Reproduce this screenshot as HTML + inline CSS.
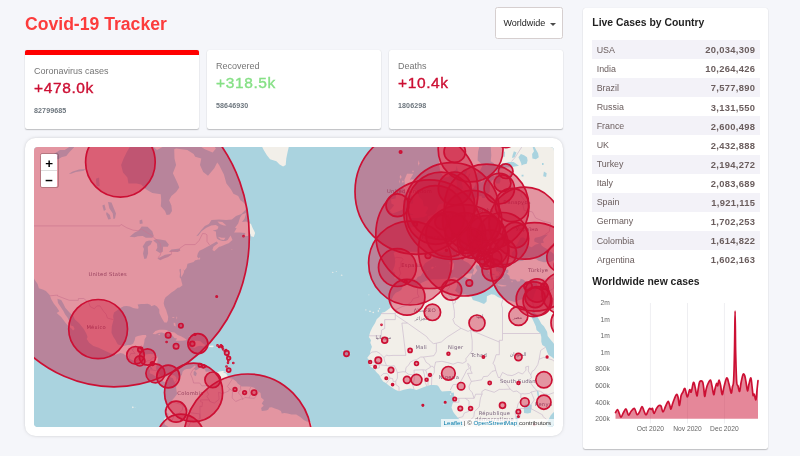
<!DOCTYPE html><html lang="en"><head><meta charset="utf-8"><title>Covid-19 Tracker</title><style>
*{box-sizing:border-box;margin:0;padding:0}
html,body{width:800px;height:456px;overflow:hidden}
body{background:#f5f6fa;font-family:"Liberation Sans",sans-serif;position:relative;color:#222}
.abs{position:absolute;white-space:nowrap;line-height:1}
h1{position:absolute;left:25px;top:15.5px;font-size:17.6px;line-height:1;color:#fc3c3c;font-weight:bold;white-space:nowrap}
.dd{position:absolute;left:495px;top:7px;width:68px;height:32px;background:#fff;border:1px solid #d6cfcf;border-radius:2.5px}
.dd span{position:absolute;left:7.5px;top:10.6px;font-size:9px;line-height:1;color:#1c1c1c}
.dd i{position:absolute;left:54px;top:14.6px;width:0;height:0;border-left:3px solid transparent;border-right:3px solid transparent;border-top:3.1px solid #4a4a4a}
.card{position:absolute;top:50px;width:174px;height:78.7px;background:#fff;border-radius:2px;box-shadow:0 1px 1.2px rgba(0,0,0,.22),0 0 1px rgba(0,0,0,.12)}
.card.sel{border-top:5.5px solid #ff0000}
.card .t{position:absolute;left:9px;top:11.9px;font-size:9px;line-height:1;color:#757575}
.card .v{position:absolute;left:9px;top:25.1px;font-size:15.5px;line-height:1;font-weight:normal;-webkit-text-stroke:.38px currentColor;color:#cc1034;letter-spacing:.62px}
.card .n{position:absolute;left:9px;top:53px;font-size:7.1px;line-height:1;font-weight:bold;color:#6c757d;letter-spacing:.1px}
.mapcard{position:absolute;left:25px;top:138px;width:538px;height:298px;background:#fff;border-radius:10.5px;box-shadow:0 0 4.4px -2px rgba(0,0,0,.5)}
.mapwrap{position:absolute;left:9px;top:9px;width:520px;height:280px;border-radius:4px;overflow:hidden;background:#aad3df}
svg.map{position:absolute;left:0;top:0;display:block}
svg.map .l{fill:#f2efe9}
svg.map .w{fill:#aad3df}
svg.map .b{fill:none;stroke:#c9b8cc;stroke-width:.65}
svg.map .lb text{fill:#75607a;font-family:"DejaVu Sans","Liberation Sans",sans-serif;text-anchor:middle;letter-spacing:.25px}
svg.map .cs ellipse{fill:#cc1034;fill-opacity:.4;stroke:#cc1034;stroke-width:1.7}
.zoom{position:absolute;left:6px;top:6px;width:18.6px;border:1.1px solid rgba(0,0,0,.2);border-radius:2.3px;background-clip:padding-box}
.zoom b{display:block;width:16.4px;height:16.6px;background:#fff;color:#000;font-size:13.4px;line-height:16.6px;text-align:center;font-weight:bold;font-family:"Liberation Sans",sans-serif;overflow:hidden}
.zoom b span{position:relative;top:1.5px}
.zoom b+b span{top:2.6px}
.zoom b:first-child{border-bottom:.6px solid #ddd;border-radius:1.2px 1.2px 0 0}
.zoom b:last-child{border-radius:0 0 1.2px 1.2px}
.attr{position:absolute;right:0;bottom:0;background:rgba(255,255,255,.72);font-size:6.2px;line-height:8.4px;padding:0 2.8px;color:#333;white-space:nowrap}
.attr a{color:#0078a8;text-decoration:none}
.panel{position:absolute;left:583px;top:8px;width:184.8px;height:441px;background:#fff;border-radius:2.5px;box-shadow:0 1px 1.2px rgba(0,0,0,.22),0 0 1px rgba(0,0,0,.12)}
h3{position:absolute;font-size:10.4px;line-height:1;font-weight:bold;color:#1f1f1f;white-space:nowrap;left:592.3px}
.tbl{position:absolute;left:592px;top:40px;width:168px;color:#6a5d5d}
.tbl div{height:19.1px;position:relative}
.tbl div:nth-child(odd){background:#f3f2f8}
.tbl span{position:absolute;left:4.7px;top:5.6px;font-size:8.9px;line-height:1}
.tbl strong{position:absolute;right:5px;top:5.3px;font-size:9.4px;line-height:1;letter-spacing:.32px;margin-right:-.32px}
svg.chart{position:absolute;display:block}
svg.chart .ax{font-size:6.7px;fill:#666;font-family:"Liberation Sans",sans-serif}
</style></head><body>
<h1>Covid-19 Tracker</h1>
<div class="dd"><span>Worldwide</span><i></i></div>
<div class="card sel" style="left:25px"><div class="t">Coronavirus cases</div><div class="v">+478.0k</div><div class="n">82799685</div></div>
<div class="card" style="left:207px"><div class="t">Recovered</div><div class="v" style="color:#86e086">+318.5k</div><div class="n">58646930</div></div>
<div class="card" style="left:389px"><div class="t">Deaths</div><div class="v">+10.4k</div><div class="n">1806298</div></div>
<div class="mapcard"><div class="mapwrap">
<svg class="map" width="520" height="280" viewBox="0 0 520 280">
<rect width="520" height="280" fill="#aad3df"/>
<g class="land">
<path class="l" d="M-40.9 -58.2L-40.9 129.4L-2.7 125.3L-1.1 129.4L0.8 133.0L3.6 136.9L4.9 141.2L9.4 142.7L11.9 143.9L15.7 148.1L17.3 152.2L19.9 156.7L22.7 160.3L25.3 164.3L22.7 166.1L27.2 170.1L31.3 175.4L33.6 178.2L37.7 181.7L39.0 183.4L40.6 182.0L39.3 179.2L36.7 178.5L35.5 174.7L33.6 170.8L31.0 167.2L29.4 164.0L27.2 160.7L24.0 155.9L23.4 151.8L27.2 153.0L29.4 156.7L31.3 160.7L35.5 165.4L39.3 169.0L40.9 172.6L45.0 176.1L49.8 182.0L52.3 186.5L53.6 189.9L52.7 192.0L55.2 195.7L59.4 199.1L64.1 200.4L70.5 203.4L76.9 206.4L81.6 207.7L86.4 206.1L89.6 206.7L94.4 211.3L99.1 213.6L103.0 215.0L108.7 215.9L110.6 216.9L111.9 218.9L115.1 221.8L116.0 223.4L115.7 226.3L118.9 227.6L122.4 229.9L123.7 231.5L124.9 232.8L128.4 234.1L131.3 235.4L134.2 234.4L132.9 232.1L135.8 229.9L138.9 231.2L139.9 234.1L140.9 235.4L142.4 237.6L142.1 240.8L142.8 245.6L143.7 246.2L140.5 250.4L138.0 253.3L137.4 255.2L134.2 256.1L133.9 258.3L132.6 259.9L131.3 261.5L131.6 264.7L131.3 265.7L134.2 266.6L134.5 267.9L133.2 269.2L130.0 272.0L130.4 274.9L130.7 277.5L134.2 279.7L135.4 281.7L138.9 288.7L140.5 296.8L280.6 296.8L277.8 283.9L278.1 281.3L276.8 274.9L272.7 274.6L270.1 273.3L266.3 270.1L262.2 267.6L257.4 267.6L253.6 266.6L250.4 266.0L247.8 266.6L246.9 264.1L244.0 262.5L240.8 261.5L237.6 260.3L235.4 260.6L234.1 262.8L232.2 263.4L227.8 264.1L227.1 260.9L229.7 258.7L227.8 256.4L230.0 252.9L227.1 250.4L226.5 245.9L224.3 244.6L222.4 242.7L220.1 240.8L217.0 239.8L213.1 239.5L207.4 239.5L206.4 238.6L203.6 236.6L202.3 234.4L198.5 231.8L195.0 230.9L192.8 227.6L191.5 226.3L188.9 224.9L191.8 224.1L188.3 224.1L184.5 224.7L182.9 226.0L179.4 225.7L178.1 224.4L175.6 224.4L171.7 224.7L171.1 222.5L167.0 221.5L166.3 219.2L165.1 221.2L162.8 223.1L161.2 223.4L160.0 221.2L161.9 219.9L160.6 218.4L158.7 220.2L156.5 221.8L152.6 222.1L150.4 222.8L148.5 224.7L147.9 228.0L146.0 229.6L144.0 230.9L144.4 232.8L142.8 230.9L142.4 230.5L140.5 228.6L137.4 227.8L134.5 228.4L131.6 229.9L129.4 230.2L127.2 229.6L125.9 227.6L124.6 226.3L122.7 223.8L122.4 223.1L122.1 219.9L123.0 216.6L123.7 213.3L124.0 210.0L121.4 208.4L119.8 207.2L115.1 207.1L111.9 207.4L108.7 207.6L105.8 207.1L107.7 205.1L108.1 203.4L108.4 200.1L109.3 199.1L110.3 195.0L110.6 192.3L112.5 189.3L111.9 188.1L108.7 187.9L103.9 188.9L101.4 189.9L100.7 193.3L99.1 196.7L96.6 198.1L93.7 198.1L89.6 199.1L87.1 198.4L83.9 197.4L82.9 196.0L81.6 193.3L79.4 189.9L77.8 186.5L77.5 185.5L77.8 179.6L79.1 174.3L79.6 172.7L79.1 169.0L80.0 165.4L83.2 163.3L86.4 161.1L89.6 159.2L92.8 159.1L96.0 159.6L99.1 161.1L101.7 161.4L104.2 161.8L104.6 160.3L103.6 157.4L107.1 157.0L110.3 157.0L113.5 156.7L116.3 157.8L117.3 159.2L120.5 158.1L123.0 159.6L125.3 162.5L125.3 166.1L127.2 170.1L128.4 172.2L130.4 175.4L132.9 175.4L133.9 173.3L134.2 169.7L132.6 164.7L132.3 163.6L130.4 159.2L129.7 156.3L130.4 152.6L131.6 150.3L134.5 148.1L137.4 145.4L140.5 143.5L143.7 140.8L145.6 140.4L148.5 138.3L147.5 134.6L146.9 131.8L145.6 130.2L146.0 126.6L145.3 122.5L146.9 121.7L146.9 126.2L147.2 130.2L148.5 128.2L149.8 125.7L150.1 123.7L148.5 121.7L150.4 123.5L152.6 120.8L153.3 117.5L153.6 116.7L159.6 115.0L161.2 113.3L162.8 112.9L164.1 112.4L166.0 112.4L166.2 110.7L165.4 110.4L164.4 111.6L163.1 109.4L163.8 106.4L165.4 103.8L169.2 102.0L172.4 100.2L175.6 98.5L178.7 96.7L182.6 94.4L184.2 96.2L179.4 99.8L178.4 102.9L180.3 104.2L185.1 99.8L186.7 99.4L193.1 96.7L194.7 96.2L197.8 93.5L198.5 93.0L196.6 88.4L193.7 93.0L191.5 93.9L188.3 93.9L185.1 93.0L182.9 91.6L182.2 88.4L181.9 84.6L178.7 83.7L183.5 82.2L184.5 79.8L181.9 77.9L177.2 78.4L172.4 80.8L167.6 84.2L164.4 88.4L162.2 89.3L165.4 85.6L167.0 83.2L170.8 78.9L174.9 76.9L177.5 73.0L185.1 72.5L192.1 73.0L197.8 72.5L202.0 69.0L207.4 66.9L211.5 62.8L211.9 58.6L209.0 54.9L206.4 53.3L204.2 48.9L199.4 46.7L196.9 42.2L192.4 36.4L189.9 27.4L185.1 18.1L183.2 15.5L180.3 21.3L174.0 28.7L169.2 25.0L166.0 18.1L167.3 11.6L161.2 9.7L159.6 7.0L153.3 2.9L142.1 1.5L140.2 2.2L140.5 11.6L142.1 18.1L138.9 26.2L143.7 36.4L145.3 40.4L142.1 45.0L137.4 48.9L135.1 53.3L137.4 58.6L138.0 63.9L135.8 67.4L132.6 68.0L131.0 63.9L126.8 59.2L127.2 53.3L126.8 47.2L118.3 46.1L111.9 42.2L107.1 37.6L102.3 36.4L94.4 36.4L93.4 30.5L89.0 25.6L87.1 18.1L89.6 11.6L92.8 5.0L96.0 -0.5L100.7 -6.2L102.3 -58.2Z"/>
<path class="l" d="M200.1 85.6L202.6 81.3L201.0 80.8L204.2 76.4L206.1 70.5L208.0 67.4L212.2 65.9L210.6 71.5L208.0 75.0L212.2 74.5L217.0 76.9L218.5 80.8L220.1 83.7L221.1 86.0L219.8 90.0L217.0 89.3L216.3 86.5L213.8 88.9L210.9 88.9L211.2 86.0L205.8 85.6Z"/>
<path class="l" d="M183.5 74.5L188.3 75.0L192.4 78.4L189.9 78.4L185.8 76.9Z"/>
<path class="l" d="M183.8 89.8L187.7 90.7L191.5 90.7L189.9 93.0L186.7 92.6Z"/>
<path class="l" d="M140.5 -9.1L151.7 -11.3L161.2 -4.0L170.8 2.2L178.7 5.6L181.9 1.5L177.2 -4.8L183.5 -5.5L185.1 -24.1L140.5 -24.1Z"/>
<path class="l" d="M111.9 -5.5L116.7 -2.6L123.0 2.9L129.4 -0.5L133.5 -6.9L127.8 -12.7L115.1 -16.5Z"/>
<path class="l" d="M220.1 -24.1L223.3 -10.5L226.5 -3.3L229.7 2.9L232.9 8.3L236.1 12.3L242.4 14.2L245.6 17.5L249.1 19.4L251.7 18.1L252.3 11.6L253.6 5.0L255.2 -1.9L259.3 -12.7L267.9 -24.1Z"/>
<path class="l" d="M312.5 -20.3L317.2 -8.3L325.2 -5.5L329.3 -4.8L337.9 -9.1L344.3 -15.0L342.7 -24.1L318.8 -28.1Z"/>
<path class="l" d="M118.6 186.9L121.4 184.1L125.3 182.7L129.4 182.7L132.6 183.1L135.8 184.8L140.5 185.5L143.7 187.9L146.9 189.3L150.1 191.0L152.6 192.7L151.7 193.3L148.5 193.7L143.7 193.7L141.5 193.8L143.1 191.6L140.5 191.0L138.3 188.2L134.2 187.5L131.0 186.5L127.8 185.5L124.6 185.8L121.4 187.2Z"/>
<path class="l" d="M152.0 198.1L156.5 199.1L160.6 201.1L162.8 199.4L166.0 198.7L170.1 199.4L171.4 198.1L169.2 196.7L166.3 194.3L162.8 193.7L160.6 194.0L157.1 193.7L155.2 194.3L157.1 195.7L158.4 198.1L154.9 198.4L153.3 197.9Z"/>
<path class="l" d="M139.3 199.1L142.1 198.4L146.0 199.4L146.3 200.4L143.1 201.1L139.9 199.7Z"/>
<path class="l" d="M174.9 198.7L178.7 198.4L180.0 199.1L178.7 200.2L174.9 200.1Z"/>
<path class="l" d="M191.8 224.1L194.7 223.8L194.7 226.0L191.8 226.2Z"/>
<path class="l" d="M139.6 175.7L141.2 176.1L141.8 179.6L139.9 178.5Z"/>
<path class="l" d="M404.5 -58.2L404.5 5.0L404.8 11.6L405.1 18.1L406.4 24.4L409.6 29.9L411.2 30.5L414.4 29.9L419.1 24.4L422.3 22.5L422.6 18.7L423.9 24.4L424.5 28.7L426.8 32.3L428.7 39.3L429.3 42.2L430.3 45.6L434.1 45.6L434.4 42.2L439.8 41.0L441.1 38.1L442.1 31.7L443.0 26.2L446.5 22.5L448.7 18.1L443.6 13.6L444.0 5.0L445.6 -1.2L447.8 -3.3L455.7 -12.7L460.5 -22.6L469.4 -18.0L466.9 -12.0L460.5 -3.3L456.7 -1.2L457.3 8.3L456.7 14.2L459.9 16.2L462.1 19.4L468.5 16.8L474.8 14.9L479.6 14.9L485.0 18.7L478.0 20.0L471.7 20.6L467.5 21.9L463.7 23.1L463.7 26.8L466.6 28.7L466.3 34.6L465.3 36.4L462.1 36.4L460.8 32.3L457.7 33.5L455.7 39.3L455.7 45.0L452.6 48.3L451.0 51.1L448.1 51.1L447.5 48.9L443.0 49.4L439.8 52.2L434.4 53.8L431.9 51.1L428.0 52.2L423.9 53.3L420.7 50.5L420.1 47.8L419.8 45.0L421.7 42.2L423.3 39.3L422.3 33.5L422.6 32.3L419.1 35.2L415.9 35.8L414.7 42.2L414.7 45.0L416.3 48.3L416.9 53.3L415.9 55.4L411.2 56.0L408.0 56.5L404.8 57.6L403.8 59.2L402.6 63.3L400.3 66.9L396.8 68.5L394.0 69.5L394.0 73.0L389.5 75.9L385.7 76.9L384.7 75.5L383.2 75.9L383.8 80.3L379.3 79.8L373.9 81.3L374.9 84.6L380.0 86.5L381.9 87.5L385.1 92.1L385.1 97.6L384.7 102.0L383.8 104.7L379.3 104.7L374.6 104.7L369.8 103.8L363.4 103.1L359.6 106.0L360.9 110.7L361.2 115.0L360.5 119.2L358.6 124.1L360.9 125.7L360.9 127.8L360.5 131.4L365.3 130.6L368.5 132.6L371.1 135.3L370.1 136.1L368.8 139.3L367.2 143.1L364.7 144.6L361.8 145.8L359.3 148.8L357.7 152.6L357.7 155.9L358.3 156.7L356.4 160.7L353.5 162.9L350.7 165.1L347.8 165.8L346.2 169.0L342.7 172.2L341.1 176.1L338.3 180.6L336.3 184.8L334.8 189.9L337.0 193.3L336.3 195.7L337.9 199.7L336.3 204.4L336.3 206.7L333.2 211.0L335.4 213.3L335.7 215.0L335.4 218.2L337.0 219.9L339.5 221.5L341.1 223.4L342.7 225.4L345.3 228.0L346.9 231.2L349.1 234.4L352.3 236.3L354.5 238.2L358.6 241.1L361.8 243.0L365.0 244.3L369.8 242.7L376.1 241.4L379.3 242.1L382.5 243.0L388.2 240.8L392.7 238.9L396.5 238.1L399.7 237.9L403.2 238.2L404.8 239.8L406.4 242.7L408.0 244.6L411.2 244.3L415.3 244.0L417.2 244.0L417.5 245.9L419.8 245.6L420.1 248.8L420.1 251.0L419.4 255.2L418.5 256.8L417.5 260.6L419.1 264.7L420.7 266.9L423.9 270.8L426.5 273.6L427.7 276.8L428.0 277.8L429.6 280.7L430.9 286.5L431.9 296.8L514.3 296.8L514.0 285.5L514.6 282.3L514.0 280.0L512.4 277.5L513.4 274.6L515.3 271.3L516.6 268.5L519.1 265.7L521.3 263.8L524.2 259.6L529.0 255.2L533.1 252.0L579.9 226.3L579.9 -58.2Z"/>
<path class="l" d="M370.7 73.7L375.5 72.5L377.7 71.0L382.5 71.0L385.7 70.5L389.5 70.2L393.3 68.2L393.3 66.9L391.1 66.4L392.1 64.9L394.3 61.3L393.0 59.2L389.8 59.2L389.2 56.0L388.6 53.3L385.1 50.0L383.8 45.0L382.5 42.7L379.3 42.2L380.6 40.4L382.5 36.4L383.2 32.9L377.7 32.3L375.8 32.9L379.3 26.8L373.0 26.8L370.4 32.9L371.1 39.3L369.1 40.4L371.4 46.1L373.6 45.0L373.3 48.9L377.7 48.3L379.3 53.3L379.0 56.5L374.6 57.0L375.8 60.7L373.6 63.9L372.0 64.4L373.3 65.9L378.4 66.9L379.3 68.0L375.5 68.0L372.6 72.0Z"/>
<path class="l" d="M357.0 65.4L358.6 66.4L362.8 64.9L368.5 62.8L369.8 58.6L369.1 53.8L371.4 51.1L369.8 46.7L365.6 46.1L362.1 47.8L361.5 51.6L357.0 52.2L357.4 56.5L360.2 58.1L357.4 61.8L355.8 63.3Z"/>
</g><g class="water">
<path class="w" d="M371.1 135.3L374.9 132.6L379.3 132.6L382.2 132.6L383.8 129.8L386.7 129.0L389.5 124.5L387.9 121.2L391.1 116.2L395.9 113.3L399.1 110.7L398.8 108.6L398.4 105.5L401.6 104.2L404.8 104.7L408.6 106.0L412.1 103.4L415.0 102.0L417.2 100.2L420.7 102.0L421.7 104.2L422.3 106.9L424.2 109.0L427.7 112.0L430.3 114.1L434.1 115.8L436.6 118.3L438.6 119.2L440.1 123.3L439.2 124.9L438.7 127.4L440.1 127.8L441.7 125.7L443.3 123.3L441.4 120.4L442.7 117.5L446.2 119.6L447.5 120.0L447.8 118.3L445.9 116.2L442.7 114.6L439.8 112.9L440.5 111.2L437.3 111.2L434.1 108.6L431.9 103.8L428.7 101.6L428.0 97.6L428.0 95.8L432.5 94.4L432.2 97.1L433.1 98.5L435.0 96.2L437.3 101.1L441.1 104.2L444.6 106.4L446.5 108.2L449.7 110.3L450.6 112.4L450.6 117.1L452.6 120.4L454.8 123.7L456.1 126.2L458.0 126.6L461.5 127.4L456.7 128.6L457.7 131.8L460.2 133.4L462.4 133.4L461.5 129.4L463.7 129.0L465.3 128.6L465.3 126.6L462.1 123.7L462.1 121.7L461.2 118.3L461.8 116.7L464.3 119.2L466.6 118.8L465.3 116.2L468.5 115.4L471.7 115.8L472.3 117.9L473.9 117.1L476.4 115.0L480.9 115.0L481.5 113.9L478.0 111.2L477.7 107.7L477.7 105.5L479.9 103.8L480.3 101.1L483.4 96.7L485.4 93.0L486.6 90.7L489.2 90.3L490.8 91.6L494.0 92.6L492.4 95.8L495.5 99.4L497.5 100.2L501.6 97.6L505.1 96.7L500.3 94.4L500.3 92.1L501.3 90.7L506.0 89.8L509.9 87.9L514.0 87.5L510.5 90.7L508.9 93.0L509.9 95.8L506.7 96.2L507.6 98.5L509.9 100.2L513.1 102.0L515.3 103.8L519.4 106.4L521.3 110.7L521.3 112.4L516.2 115.0L509.9 115.2L504.5 113.7L500.3 110.7L494.0 110.7L488.9 113.7L482.5 114.4L481.9 115.4L478.0 117.5L473.9 117.9L472.3 119.2L472.0 121.2L474.5 123.3L474.2 125.7L472.6 126.6L475.5 129.0L475.8 131.4L478.7 132.6L481.5 132.6L483.4 134.6L486.0 134.2L486.6 131.8L489.2 132.6L492.4 134.9L496.2 134.6L499.0 132.2L502.2 133.0L503.8 133.0L502.9 136.1L503.2 140.8L501.9 143.5L500.6 146.6L500.0 148.8L499.0 151.8L497.8 153.3L495.5 154.1L491.7 153.3L489.2 152.6L487.3 152.6L484.4 153.3L481.2 155.2L476.4 153.7L469.1 152.2L463.7 150.0L460.5 147.7L457.3 147.3L452.9 149.2L452.6 154.4L450.0 157.0L444.6 154.8L438.9 153.0L437.3 149.6L430.9 147.3L427.1 147.7L424.2 146.2L421.0 143.5L422.6 140.4L423.3 137.3L422.6 133.4L424.2 131.4L421.4 130.6L420.1 130.2L416.3 131.6L411.2 131.8L404.8 132.2L398.4 132.2L392.1 133.8L387.3 136.1L385.1 138.1L382.5 138.9L379.3 138.1L376.1 138.5L372.0 135.7Z"/>
<path class="w" d="M492.5 158.3L492.7 160.3L494.6 164.7L496.5 167.9L498.7 172.6L500.3 176.1L501.9 179.6L502.5 183.1L506.4 186.5L507.3 189.9L507.3 194.7L508.3 198.1L511.5 200.1L513.1 205.1L514.6 208.1L517.8 210.0L520.1 211.7L522.6 215.0L526.1 217.6L527.4 217.6L526.4 215.6L525.2 210.7L524.8 206.7L523.6 202.4L521.0 198.7L519.4 196.0L516.2 192.3L513.7 188.9L513.1 184.8L509.9 179.2L507.3 176.8L505.1 172.6L501.9 167.2L500.3 165.1L500.0 160.0L498.7 164.3L497.9 166.5L495.9 164.7L494.0 162.5L493.0 159.2Z"/>
<path class="w" d="M487.6 18.4L489.5 17.5L492.7 16.8L493.6 13.6L493.0 10.3L490.1 8.3L486.9 7.0L484.4 10.3L486.3 14.2L487.3 16.8Z"/>
<path class="w" d="M498.4 11.6L501.9 12.3L504.8 10.3L504.1 6.3L502.2 2.9L500.3 -0.5L498.7 0.2L500.0 4.3L498.1 7.0Z"/>
<path class="w" d="M428.4 27.4L431.5 28.1L433.5 23.8L430.9 22.5Z"/>
<path class="w" d="M433.8 31.7L435.0 30.5L436.3 26.8L435.0 26.8Z"/>
<path class="w" d="M475.2 28.7L477.7 30.5L478.3 26.8L476.1 24.4Z"/>
<path class="w" d="M95.6 89.8L100.7 90.3L103.9 89.3L108.7 88.9L111.9 90.7L118.3 90.7L119.8 88.9L118.3 84.2L113.5 79.8L107.7 79.4L104.6 83.7L100.7 85.6Z"/>
<path class="w" d="M109.0 106.4L110.3 112.0L112.5 111.6L114.1 106.4L113.8 99.8L116.7 97.6L118.3 93.9L115.1 93.5L111.9 94.4L108.7 99.4L110.0 102.0Z"/>
<path class="w" d="M119.2 93.5L123.0 96.7L123.3 100.7L121.8 103.4L125.9 106.0L128.8 104.7L129.1 99.8L133.9 99.8L134.8 97.6L131.6 93.5L126.2 92.6L122.1 92.1Z"/>
<path class="w" d="M123.3 111.6L126.2 113.3L130.0 111.6L134.2 109.9L137.7 107.3L135.8 106.9L131.0 107.7L126.2 110.3Z"/>
<path class="w" d="M134.8 105.1L138.9 104.7L143.7 105.1L146.3 103.8L145.6 101.6L141.8 102.0L137.4 102.5Z"/>
<path class="w" d="M74.0 54.9L77.5 55.4L82.0 66.4L81.0 71.5L79.4 72.0L78.8 66.4L75.3 61.3Z"/>
<path class="w" d="M115.4 219.5L117.6 220.2L118.9 222.8L116.3 221.8Z"/>
<path class="w" d="M489.8 261.2L490.8 257.7L494.9 257.1L497.8 258.0L497.5 260.9L496.8 265.7L493.6 266.6L490.1 266.0Z"/>
<path class="w" d="M502.9 243.7L504.5 244.6L505.4 250.1L504.1 250.4L503.2 246.9Z"/>
<path class="w" d="M485.7 254.8L488.5 251.0L489.2 251.7L487.3 254.5Z"/>
<path class="w" d="M481.9 269.2L483.4 269.2L484.4 275.9L486.9 282.3L486.0 285.5L482.8 279.1L481.5 272.7Z"/>
<path class="w" d="M480.9 263.8L482.2 263.8L481.9 266.3L480.9 266.0Z"/>
<path class="w" d="M523.9 125.7L527.1 125.7L527.7 123.7L525.2 123.7Z"/>
<path class="w" d="M160.9 223.8L162.8 226.3L161.9 229.2L159.6 228.0L159.6 225.0Z"/>
<path class="w" d="M15.7 10.3L19.6 12.6L24.3 12.3L27.5 10.3L32.3 9.0L35.5 5.0L40.2 0.2L37.1 -1.2L30.7 2.9L25.9 2.9L21.1 6.3L18.0 8.3Z"/>
<path class="w" d="M34.8 26.8L38.7 24.4L45.0 22.5L51.4 21.9L49.8 23.8L41.8 25.0L37.1 26.8Z"/>
<path class="w" d="M62.5 39.3L65.7 39.3L65.1 30.5L61.9 31.7Z"/>
<path class="w" d="M74.3 72.5L76.9 72.0L75.9 68.0L72.7 64.9L72.1 66.9Z"/>
<path class="w" d="M69.9 63.9L71.8 62.8L70.5 57.6L68.3 58.6Z"/>
<path class="w" d="M105.8 76.9L108.7 76.4L108.1 72.5L105.5 73.5Z"/>
<path class="w" d="M478.0 11.0L480.6 10.3L482.5 5.6L479.9 4.3L478.7 7.7Z"/>
<path class="w" d="M469.4 10.3L470.7 9.7L471.0 5.0L469.8 4.3Z"/>
<path class="w" d="M509.2 29.3L512.1 29.9L512.7 26.2L509.9 24.4Z"/>
<path class="w" d="M508.0 18.1L509.6 18.1L509.6 15.9L508.0 15.9Z"/>
<path class="w" d="M487.6 29.6L489.5 29.6L489.5 27.7L487.6 27.7Z"/>
<path class="w" d="M498.7 -9.1L501.9 -11.3L508.3 -7.6L510.5 -10.5L517.8 -12.7L516.2 -20.3L497.1 -24.1Z"/>
</g><g class="land">
<path class="l" d="M428.4 127.4L431.5 126.6L438.6 126.4L437.0 130.2L437.0 132.6L434.4 131.4L428.7 129.0Z"/>
<path class="l" d="M415.0 115.4L418.2 114.1L420.1 117.1L419.4 122.5L417.5 123.3L415.6 122.5L415.9 117.9Z"/>
<path class="l" d="M416.3 109.0L418.8 106.4L419.1 110.7L418.2 113.3L416.6 112.0Z"/>
<path class="l" d="M463.7 137.3L466.9 137.7L472.6 138.5L471.7 139.3L467.5 139.4L463.7 138.3Z"/>
<path class="l" d="M491.7 139.3L494.0 137.9L499.0 136.5L497.1 139.3L494.0 140.8L492.0 140.2Z"/>
<path class="l" d="M396.5 121.0L398.8 119.4L399.9 120.4L398.4 122.1Z"/>
<path class="l" d="M462.7 123.7L465.6 124.9L467.2 127.4L464.0 124.9Z"/>
<path class="l" d="M424.2 43.9L429.0 41.6L429.0 45.0L427.4 47.8L424.5 46.7Z"/>
<path class="l" d="M420.1 45.6L422.6 44.4L423.3 47.2L420.7 47.5Z"/>
<path class="l" d="M446.5 35.8L448.4 31.1L449.7 31.7L448.7 34.6Z"/>
<path class="l" d="M334.8 164.3L336.0 163.5L337.3 164.3L336.0 165.1Z"/>
<path class="l" d="M338.3 165.4L339.2 164.6L340.2 165.4L339.2 166.2Z"/>
<path class="l" d="M343.5 164.0L344.3 162.7L345.1 164.0L344.3 165.2Z"/>
<path class="l" d="M344.8 161.8L345.6 161.1L346.4 161.8L345.6 162.5Z"/>
<path class="l" d="M331.3 162.9L331.9 162.0L332.5 162.9L331.9 163.8Z"/>
<path class="l" d="M306.6 128.2L307.7 127.6L308.8 128.2L307.7 128.8Z"/>
<path class="l" d="M297.8 125.3L298.8 124.7L299.7 125.3L298.8 125.9Z"/>
<path class="l" d="M301.6 124.5L302.3 124.0L302.9 124.5L302.3 125.0Z"/>
<path class="l" d="M334.1 147.9L334.9 147.4L335.7 147.9L334.9 148.3Z"/>
<path class="l" d="M313.0 209.7L313.7 208.9L314.4 209.7L313.7 210.5Z"/>
<path class="l" d="M310.6 204.1L311.5 203.6L312.5 204.1L311.5 204.6Z"/>
<path class="l" d="M315.5 206.4L316.0 205.7L316.4 206.4L316.0 207.1Z"/>
<path class="l" d="M308.3 203.4L309.0 202.9L309.6 203.4L309.0 203.9Z"/>
<path class="l" d="M409.4 257.5L409.9 256.9L410.4 257.5L409.9 258.2Z"/>
<path class="l" d="M412.1 253.3L412.4 252.9L412.8 253.3L412.4 253.6Z"/>
<path class="l" d="M415.8 247.2L416.6 246.2L417.4 247.2L416.6 248.2Z"/>
<path class="l" d="M194.2 211.2L194.7 210.4L195.1 211.2L194.7 212.0Z"/>
<path class="l" d="M192.1 206.1L193.1 205.4L194.0 206.1L193.1 206.7Z"/>
<path class="l" d="M193.2 208.7L193.6 208.0L193.9 208.7L193.6 209.4Z"/>
<path class="l" d="M194.3 213.6L194.7 213.0L195.0 213.6L194.7 214.3Z"/>
<path class="l" d="M198.9 216.1L199.3 215.6L199.7 216.1L199.3 216.6Z"/>
<path class="l" d="M192.1 219.5L192.4 219.1L192.8 219.5L192.4 219.9Z"/>
<path class="l" d="M193.8 215.8L194.0 215.4L194.3 215.8L194.0 216.2Z"/>
<path class="l" d="M191.7 203.1L192.1 202.7L192.5 203.1L192.1 203.4Z"/>
<path class="l" d="M188.8 202.4L189.1 202.1L189.4 202.4L189.1 202.7Z"/>
<path class="l" d="M187.8 199.9L188.1 199.6L188.5 199.9L188.1 200.2Z"/>
<path class="l" d="M181.9 200.9L182.6 200.7L183.2 200.9L182.6 201.1Z"/>
<path class="l" d="M181.8 198.9L182.2 198.7L182.7 198.9L182.2 199.1Z"/>
<path class="l" d="M142.3 170.8L142.8 169.2L143.2 170.8L142.8 172.4Z"/>
<path class="l" d="M137.7 170.4L139.3 170.0L140.9 170.4L139.3 170.9Z"/>
<path class="l" d="M146.0 176.1L146.3 174.7L146.6 176.1L146.3 177.5Z"/>
<path class="l" d="M148.8 178.9L149.1 177.8L149.5 178.9L149.1 179.9Z"/>
<path class="l" d="M154.5 189.6L155.5 189.1L156.5 189.6L155.5 190.1Z"/>
<path class="l" d="M159.8 187.2L160.6 186.9L161.4 187.2L160.6 187.5Z"/>
<path class="l" d="M140.2 187.9L140.9 187.6L141.5 187.9L140.9 188.2Z"/>
<path class="l" d="M124.1 187.5L125.3 186.8L126.4 187.5L125.3 188.3Z"/>
<path class="l" d="M182.4 149.6L182.7 149.4L183.0 149.6L182.7 149.8Z"/>
<path class="l" d="M196.9 102.2L197.8 102.0L198.8 102.2L197.8 102.5Z"/>
<path class="l" d="M434.3 135.7L434.7 135.4L435.1 135.7L434.7 136.0Z"/>
<path class="l" d="M468.5 131.4L469.1 130.8L469.8 131.4L469.1 132.0Z"/>
<path class="l" d="M471.2 125.7L471.7 124.9L472.1 125.7L471.7 126.6Z"/>
<path class="l" d="M471.8 122.5L472.6 121.9L473.4 122.5L472.6 123.1Z"/>
<path class="l" d="M477.4 134.6L478.0 133.6L478.7 134.6L478.0 135.5Z"/>
<path class="l" d="M468.8 119.6L469.4 119.2L470.1 119.6L469.4 120.0Z"/>
<path class="l" d="M454.0 126.6L454.5 125.5L454.9 126.6L454.5 127.6Z"/>
<path class="l" d="M451.4 120.8L451.9 119.8L452.4 120.8L451.9 121.9Z"/>
<path class="l" d="M392.7 123.5L393.3 122.9L394.0 123.5L393.3 124.1Z"/>
<path class="l" d="M401.1 119.4L401.8 119.0L402.4 119.4L401.8 119.8Z"/>
<path class="l" d="M436.0 47.2L436.6 46.7L437.3 47.2L436.6 47.8Z"/>
<path class="l" d="M441.7 37.6L442.1 34.6L442.4 37.6L442.1 40.4Z"/>
<path class="l" d="M458.6 28.1L460.5 26.5L462.4 28.1L460.5 29.6Z"/>
<path class="l" d="M460.0 25.0L461.2 24.1L462.3 25.0L461.2 25.9Z"/>
<path class="l" d="M451.6 16.8L452.6 15.9L453.5 16.8L452.6 17.8Z"/>
<path class="l" d="M424.2 48.9L425.5 48.2L426.8 48.9L425.5 49.6Z"/>
<path class="l" d="M365.6 4.6L366.6 3.3L367.6 4.6L366.6 6.0Z"/>
<path class="l" d="M367.9 34.6L368.8 33.2L369.8 34.6L368.8 36.1Z"/>
<path class="l" d="M365.6 29.9L366.6 27.7L367.6 29.9L366.6 32.0Z"/>
<path class="l" d="M365.3 34.6L365.6 32.6L366.0 34.6L365.6 36.7Z"/>
<path class="l" d="M369.0 39.6L369.8 38.9L370.6 39.6L369.8 40.3Z"/>
<path class="l" d="M368.7 43.6L369.1 42.7L369.6 43.6L369.1 44.4Z"/>
<path class="l" d="M378.2 24.4L379.0 23.3L379.8 24.4L379.0 25.5Z"/>
<path class="l" d="M384.1 16.2L384.7 13.3L385.4 16.2L384.7 19.1Z"/>
<path class="l" d="M374.1 52.2L374.6 51.2L375.0 52.2L374.6 53.2Z"/>
<path class="l" d="M384.0 70.6L384.7 70.2L385.4 70.6L384.7 70.9Z"/>
<path class="l" d="M374.2 57.0L374.9 56.5L375.5 57.0L374.9 57.6Z"/>
<path class="l" d="M515.1 274.9L515.4 274.1L515.8 274.9L515.4 275.7Z"/>
<path class="l" d="M513.9 278.0L514.3 277.0L514.7 278.0L514.3 278.9Z"/>
<path class="l" d="M97.9 260.3L98.8 259.3L99.8 260.3L98.8 261.2Z"/>
<path class="l" d="M100.6 260.3L101.1 259.9L101.5 260.3L101.1 260.6Z"/>
</g><g class="bd">
<path class="b" d="M-3.7 78.9L85.9 78.9L87.1 77.4L92.8 80.8L99.1 83.2L103.9 83.7L107.7 82.2L118.9 89.3L119.8 90.7L123.0 93.0L126.2 96.2L127.5 103.8L126.2 108.2L124.3 110.3L126.2 112.0L137.4 107.3L137.4 105.1L136.7 104.4L144.4 103.7L146.0 101.1L151.0 97.6L161.2 97.6L165.1 93.5L168.6 86.5L171.4 86.8L173.0 87.9L173.0 94.4L175.6 98.0"/>
<path class="b" d="M16.0 148.8L23.7 148.1L23.4 148.8L35.2 153.3L44.4 153.3L44.4 151.5L49.8 151.5L54.9 155.9L56.2 159.6L60.3 161.8L62.9 158.9L66.0 158.9L69.5 164.3L72.1 167.2L73.4 171.1L79.6 172.7"/>
<path class="b" d="M95.3 211.7L95.3 209.4L96.9 206.4L101.1 206.4L97.9 202.7L99.1 202.6L99.1 200.7L105.0 200.7L105.0 207.1L105.8 207.1"/>
<path class="b" d="M105.0 200.7L107.7 198.4"/>
<path class="b" d="M102.0 214.1L104.4 212.0L105.0 210.0L108.1 207.7"/>
<path class="b" d="M104.4 212.0L107.1 213.6L109.7 213.6L109.3 215.6"/>
<path class="b" d="M110.9 216.6L112.8 214.0L115.7 213.6L118.9 210.7L124.0 210.0"/>
<path class="b" d="M116.0 222.8L119.2 223.1L122.4 223.8"/>
<path class="b" d="M124.9 232.8L124.9 229.6L125.9 227.6"/>
<path class="b" d="M140.9 235.4L142.8 233.1L142.4 230.5"/>
<path class="b" d="M161.9 220.3L158.7 222.8L156.5 227.0L158.4 231.5L159.6 236.0L165.7 236.0L167.9 238.9L174.0 238.6L173.0 244.0L174.6 247.5L173.0 249.4L175.2 252.9L175.9 254.5"/>
<path class="b" d="M138.0 253.9L141.5 255.8L146.0 257.1L149.1 258.7"/>
<path class="b" d="M149.1 258.7L153.3 261.5L155.8 265.7L165.7 266.9L166.0 271.7"/>
<path class="b" d="M149.1 258.7L148.2 263.1L144.7 266.6L139.9 269.2L138.3 273.0L135.8 274.3L132.9 272.4L133.2 269.2"/>
<path class="b" d="M175.9 254.5L175.2 252.9L166.6 252.9L166.6 254.8L168.6 255.2L167.9 259.9L166.0 259.0L166.0 271.7"/>
<path class="b" d="M166.0 271.7L156.8 274.6L153.6 281.7L156.8 288.4"/>
<path class="b" d="M175.9 254.5L180.3 256.1L185.1 252.3L184.5 245.3L188.6 246.6L194.7 244.0L195.6 241.8"/>
<path class="b" d="M195.6 241.8L193.4 239.5L197.8 232.8L198.5 231.8"/>
<path class="b" d="M195.6 241.8L198.5 244.0L198.2 251.0L201.7 254.5L207.4 252.0L209.0 252.3"/>
<path class="b" d="M206.4 238.6L206.8 242.4L204.2 245.9L206.4 247.8L209.0 252.3"/>
<path class="b" d="M209.0 252.3L210.9 250.4L215.0 251.0"/>
<path class="b" d="M217.0 239.8L215.4 242.7L217.0 246.9L215.0 251.0"/>
<path class="b" d="M215.0 251.0L220.5 251.3L224.3 245.6L224.3 244.6"/>
<path class="b" d="M381.9 138.9L383.5 141.2L383.5 146.9L385.1 150.0L379.3 151.5L377.4 154.8L373.0 158.1L368.2 159.6L361.3 162.9L361.3 166.6L361.3 167.9L361.3 172.6L350.7 172.6L350.7 181.5L347.5 183.1L347.2 188.8L334.8 188.8"/>
<path class="b" d="M361.3 166.6L346.9 166.6"/>
<path class="b" d="M361.3 167.9L373.5 176.1L392.7 189.6L394.6 192.3L399.1 196.4L399.4 196.7L402.4 196.2L407.3 195.0L412.8 190.3L427.0 181.3"/>
<path class="b" d="M416.3 131.6L415.3 135.3L415.3 140.4L412.8 143.9L415.3 148.8L417.7 150.3L419.1 157.0L420.4 164.3L420.4 170.8L418.8 172.2L420.7 176.8L427.0 181.3L434.1 184.4L436.6 183.1L465.3 195.0L465.3 207.7L462.1 207.7L460.5 213.0L458.9 216.6L460.5 217.9L461.8 223.4"/>
<path class="b" d="M425.5 146.2L425.5 149.2L421.7 151.8L421.4 155.6L419.1 157.0"/>
<path class="b" d="M469.0 152.0L467.5 157.4L468.5 161.1L468.5 186.5L468.5 193.3L465.3 193.3L465.3 195.0"/>
<path class="b" d="M468.5 186.5L506.4 186.5"/>
<path class="b" d="M373.5 176.1L367.9 176.1L371.4 205.1L371.9 208.4L359.0 208.4L354.8 208.7L352.3 208.1L350.0 210.7L345.9 206.4L342.7 204.6L337.9 205.1L336.3 206.7"/>
<path class="b" d="M350.0 210.7L350.7 214.3L352.6 218.6L345.3 217.7L341.1 217.7L335.7 218.7"/>
<path class="b" d="M335.4 214.6L339.5 214.0L344.9 214.8L344.9 215.8L339.9 215.6L335.4 216.3"/>
<path class="b" d="M345.3 217.7L345.3 220.8L342.1 221.5L341.1 223.4"/>
<path class="b" d="M352.6 218.6L357.0 219.2L360.2 218.6L362.5 223.1L363.4 225.7L369.1 224.7L371.4 225.0L372.0 220.5L374.9 217.9L376.1 215.3L379.6 213.3L382.5 212.7L386.7 210.0L389.5 210.0L400.0 208.7L402.3 204.7L402.4 196.2"/>
<path class="b" d="M346.5 229.4L349.1 226.7L353.2 226.3L355.1 229.2L356.1 231.2L358.6 231.5L359.3 234.7L361.8 234.1L363.4 231.2L363.4 225.7"/>
<path class="b" d="M352.3 236.3L356.1 231.2"/>
<path class="b" d="M365.0 244.3L365.0 239.8L361.8 237.6L361.8 234.1"/>
<path class="b" d="M371.4 225.0L374.6 227.3L380.3 228.0L380.3 232.8L378.7 237.6L380.0 242.1"/>
<path class="b" d="M380.3 228.0L380.0 223.1L388.9 222.8L391.7 223.1L396.5 220.2L395.9 217.9L392.1 215.3L389.5 210.0"/>
<path class="b" d="M388.9 222.8L390.5 228.0L390.8 234.4L392.7 238.9"/>
<path class="b" d="M391.7 223.1L394.0 229.6L394.0 238.6"/>
<path class="b" d="M397.5 238.1L397.8 229.6L400.3 225.7L400.3 220.8L397.8 218.9L396.5 220.2"/>
<path class="b" d="M400.3 220.8L401.6 215.0L408.0 214.3L413.7 215.6L419.1 217.2L423.9 215.3L428.7 216.3L432.2 214.3L431.9 211.7L438.2 203.7L438.2 193.3L436.6 183.1"/>
<path class="b" d="M416.3 243.0L419.1 237.6L423.9 237.3L427.1 233.8L430.3 228.0L432.8 222.8L435.4 221.5L434.1 218.2L433.8 216.3L436.6 219.5L436.6 223.4L438.2 226.3L433.5 226.3L437.3 234.4L441.4 233.8L447.8 232.8L449.4 229.6L453.8 229.2L458.0 224.4L461.8 223.4L464.3 230.5L465.9 230.5L469.1 233.8L472.9 237.3L476.1 242.1"/>
<path class="b" d="M437.3 234.4L435.0 239.2L435.4 242.4L438.2 245.6L440.1 251.3L431.2 251.3L424.9 251.3L420.1 251.0"/>
<path class="b" d="M419.4 255.2L424.9 255.2L424.9 251.3"/>
<path class="b" d="M431.2 251.3L435.0 253.9L435.0 259.9L434.7 264.4L430.3 266.0L428.7 269.8L424.2 270.8"/>
<path class="b" d="M440.1 251.3L441.7 247.2L448.1 247.2L446.5 251.0L445.6 256.8L445.2 259.9L440.5 264.7L439.8 269.5L437.6 272.0L434.7 274.0L430.6 273.0L427.7 276.8"/>
<path class="b" d="M427.1 274.3L428.7 273.0L430.6 273.0"/>
<path class="b" d="M448.1 247.2L447.8 244.6L451.0 242.4L460.2 245.3L465.3 242.4L469.4 242.4L476.1 242.1L479.3 244.6L482.8 244.0L487.1 247.2L486.6 250.7L488.5 251.5L486.0 254.5L484.1 256.8L483.1 261.2L483.1 262.8L481.9 264.7L481.2 266.9L481.9 268.9L482.5 272.4"/>
<path class="b" d="M465.9 230.5L468.5 225.4L473.3 228.0L478.0 228.6L481.2 227.3L484.4 225.4L488.5 227.0L492.0 223.1L491.7 219.9L494.6 219.2L494.3 224.1L496.8 228.0L497.5 230.9L494.0 233.4L497.1 236.6L500.3 241.1L503.2 243.7L497.1 245.0L495.5 246.4L490.8 246.9L487.6 246.6L487.1 247.2"/>
<path class="b" d="M496.8 228.0L498.1 224.4L500.3 223.1L503.8 217.6L505.1 212.3L506.7 203.4L511.8 200.1"/>
<path class="b" d="M505.1 212.3L509.6 210.4L513.1 211.3L518.8 213.0L523.9 218.2"/>
<path class="b" d="M503.2 243.7L506.4 244.3L510.2 246.9L514.6 247.5L519.4 245.8L522.3 245.8"/>
<path class="b" d="M497.1 245.0L498.7 248.8L500.3 252.9L498.7 255.2L496.8 258.0L496.8 261.5L508.6 267.9L508.9 269.5L513.7 273.3"/>
<path class="b" d="M483.1 262.8L486.0 261.5L496.8 261.5"/>
<path class="b" d="M486.0 261.5L486.9 265.7L485.7 270.5L482.8 272.4"/>
<path class="b" d="M481.2 266.9L484.4 266.0L486.9 265.7"/>
<path class="b" d="M428.0 277.8L430.3 277.2L441.7 277.2L443.0 281.3L451.0 280.7L451.0 283.9"/>
<path class="b" d="M497.8 153.3L500.0 160.0"/>
<path class="b" d="M503.8 135.3L505.7 132.2L509.9 132.2L516.2 132.2L523.9 131.0"/>
<path class="b" d="M512.4 145.4L506.4 149.6L513.1 150.7L506.7 152.6L509.9 156.3L508.3 158.1L503.5 161.1L500.3 160.3"/>
<path class="b" d="M512.4 145.4L519.4 141.6L520.1 133.4L523.9 131.0"/>
<path class="b" d="M513.1 150.7L517.5 151.1L522.9 154.1"/>
<path class="b" d="M360.9 111.2L362.8 110.3L367.9 110.9L369.1 112.4L366.9 115.0L366.6 120.4L365.0 120.8L366.6 126.6L365.0 129.4L365.3 130.6"/>
<path class="b" d="M383.2 104.9L386.7 106.9L391.1 107.3L394.3 108.6L398.9 109.0"/>
<path class="b" d="M471.7 115.8L472.9 112.0L478.0 110.7"/>
<path class="b" d="M477.4 14.6L481.2 10.3L488.5 -1.2L484.4 -6.9"/>
<path class="b" d="M478.3 21.6L476.1 32.9L477.4 34.6L478.7 41.3L487.3 44.4L486.9 48.9L493.0 56.5L488.9 57.6L490.1 63.3L498.4 64.9L501.6 71.0L509.9 74.5L516.6 75.9L515.3 84.6L510.5 87.9"/>
</g>
<g class="lb">
<text x="73.7" y="129.0" font-size="5.2">United States</text>
<text x="62.2" y="181.9" font-size="5.2">México</text>
<text x="156.5" y="247.9" font-size="5.2">Colombia</text>
<text x="387.3" y="202.4" font-size="5.2">Mali</text>
<text x="421.7" y="202.4" font-size="5.2">Niger</text>
<text x="444.9" y="210.4" font-size="5.2">Tchad</text>
<text x="483.8" y="236.1" font-size="5.2">South Sudan</text>
<text x="415.0" y="231.6" font-size="5.2">Nigeria</text>
<text x="504.1" y="125.3" font-size="5.2">Türkiye</text>
<text x="377.4" y="120.3" font-size="5.2">España</text>
<text x="460.5" y="267.7" font-size="5.2">République</text>
<text x="460.5" y="274.0" font-size="5.2">démocratique</text>
<text x="509.6" y="259.1" font-size="5.2">Kenya</text>
<text x="349.4" y="191.6" font-size="4.8">موريتانيا</text>
<text x="445.9" y="171.0" font-size="4.8">ليبيا</text>
<text x="483.4" y="172.4" font-size="4.8">مصر</text>
<text x="484.1" y="208.7" font-size="4.8">السودان</text>
<text x="387.6" y="172.8" font-size="4.8">الجزائر</text>
<text x="390.8" y="164.9" font-size="4.8">ⴷⵣⴰⵢⴻⵔ</text>
<text x="493.0" y="83.8" font-size="5.2">Україна</text>
<text x="421.7" y="70.0" font-size="5.2">Deutschland</text>
<text x="396.8" y="91.8" font-size="5.2">France</text>
<text x="429.0" y="109.3" font-size="5.2">Italia</text>
<text x="375.5" y="45.9" font-size="5.2">United Kingdom</text>
<text x="450.3" y="65.3" font-size="5.2">Polska</text>
<text x="483.1" y="57.4" font-size="5.2">Беларусь</text>
</g>
<g class="cs">
<ellipse cx="452.6" cy="114.9" rx="7.3" ry="7.3"/>
<ellipse cx="398.4" cy="165.3" rx="8.2" ry="8.2"/>
<ellipse cx="394.0" cy="108.6" rx="2.8" ry="2.8"/>
<ellipse cx="187.8" cy="199.2" rx="0.5" ry="0.5"/>
<ellipse cx="192.1" cy="203.2" rx="0.5" ry="0.5"/>
<ellipse cx="532.2" cy="118.9" rx="11.9" ry="11.9"/>
<ellipse cx="166.1" cy="218.2" rx="1.7" ry="1.7"/>
<ellipse cx="431.3" cy="86.0" rx="20.2" ry="20.3"/>
<ellipse cx="146.9" cy="178.7" rx="2.2" ry="2.2"/>
<ellipse cx="199.3" cy="216.0" rx="0.5" ry="0.5"/>
<ellipse cx="478.0" cy="58.0" rx="16.7" ry="16.7"/>
<ellipse cx="401.6" cy="68.0" rx="29.2" ry="29.3"/>
<ellipse cx="106.3" cy="202.6" rx="2.5" ry="2.5"/>
<ellipse cx="396.0" cy="228.0" rx="1.3" ry="1.3"/>
<ellipse cx="182.7" cy="149.5" rx="0.7" ry="0.7"/>
<ellipse cx="446.2" cy="101.8" rx="10.6" ry="10.6"/>
<ellipse cx="213.8" cy="292.4" rx="64.0" ry="65.4"/>
<ellipse cx="183.5" cy="198.4" rx="0.5" ry="0.5"/>
<ellipse cx="468.5" cy="106.0" rx="14.0" ry="14.1"/>
<ellipse cx="382.5" cy="216.6" rx="1.9" ry="1.9"/>
<ellipse cx="484.4" cy="269.5" rx="0.7" ry="0.7"/>
<ellipse cx="312.5" cy="206.7" rx="2.6" ry="2.6"/>
<ellipse cx="427.1" cy="239.2" rx="3.7" ry="3.7"/>
<ellipse cx="86.4" cy="15.2" rx="34.8" ry="35.0"/>
<ellipse cx="171.5" cy="219.4" rx="0.5" ry="0.5"/>
<ellipse cx="132.6" cy="195.0" rx="0.5" ry="0.5"/>
<ellipse cx="455.7" cy="236.0" rx="1.6" ry="1.6"/>
<ellipse cx="449.4" cy="210.0" rx="1.1" ry="1.1"/>
<ellipse cx="381.4" cy="77.1" rx="1.9" ry="1.9"/>
<ellipse cx="159.6" cy="245.4" rx="29.1" ry="29.3"/>
<ellipse cx="436.6" cy="261.5" rx="1.9" ry="1.9"/>
<ellipse cx="121.4" cy="226.3" rx="9.5" ry="9.5"/>
<ellipse cx="438.2" cy="96.4" rx="14.8" ry="14.8"/>
<ellipse cx="134.2" cy="188.2" rx="2.7" ry="2.7"/>
<ellipse cx="169.4" cy="219.3" rx="1.5" ry="1.5"/>
<ellipse cx="494.0" cy="139.2" rx="4.1" ry="4.1"/>
<ellipse cx="438.2" cy="73.3" rx="29.7" ry="29.9"/>
<ellipse cx="373.0" cy="232.8" rx="3.5" ry="3.5"/>
<ellipse cx="468.5" cy="258.3" rx="3.0" ry="3.0"/>
<ellipse cx="420.7" cy="41.5" rx="16.4" ry="16.5"/>
<ellipse cx="525.8" cy="221.5" rx="1.8" ry="1.8"/>
<ellipse cx="193.6" cy="208.7" rx="0.5" ry="0.5"/>
<ellipse cx="163.9" cy="196.6" rx="10.0" ry="10.0"/>
<ellipse cx="142.1" cy="264.7" rx="10.5" ry="10.5"/>
<ellipse cx="484.4" cy="168.9" rx="9.5" ry="9.5"/>
<ellipse cx="105.8" cy="213.9" rx="5.1" ry="5.1"/>
<ellipse cx="420.7" cy="252.0" rx="1.7" ry="1.7"/>
<ellipse cx="513.1" cy="210.0" rx="0.8" ry="0.8"/>
<ellipse cx="471.7" cy="24.2" rx="7.3" ry="7.3"/>
<ellipse cx="509.9" cy="232.8" rx="8.1" ry="8.1"/>
<ellipse cx="366.6" cy="5.0" rx="1.2" ry="1.2"/>
<ellipse cx="471.7" cy="-9.3" rx="9.9" ry="9.9"/>
<ellipse cx="395.3" cy="87.2" rx="53.5" ry="54.3"/>
<ellipse cx="220.1" cy="245.6" rx="2.6" ry="2.6"/>
<ellipse cx="426.3" cy="261.5" rx="2.2" ry="2.2"/>
<ellipse cx="336.1" cy="215.1" rx="1.4" ry="1.4"/>
<ellipse cx="527.4" cy="110.3" rx="14.6" ry="14.6"/>
<ellipse cx="417.5" cy="64.0" rx="47.8" ry="48.3"/>
<ellipse cx="382.5" cy="232.8" rx="5.4" ry="5.4"/>
<ellipse cx="371.8" cy="134.6" rx="1.3" ry="1.3"/>
<ellipse cx="458.9" cy="123.1" rx="10.9" ry="10.9"/>
<ellipse cx="192.5" cy="219.5" rx="0.5" ry="0.5"/>
<ellipse cx="192.8" cy="205.9" rx="2.2" ry="2.2"/>
<ellipse cx="101.5" cy="208.3" rx="8.8" ry="8.8"/>
<ellipse cx="357.0" cy="223.1" rx="2.7" ry="2.7"/>
<ellipse cx="341.1" cy="219.9" rx="1.2" ry="1.2"/>
<ellipse cx="201.0" cy="242.4" rx="1.8" ry="1.8"/>
<ellipse cx="158.3" cy="196.7" rx="2.4" ry="2.4"/>
<ellipse cx="428.5" cy="111.2" rx="0.5" ry="0.5"/>
<ellipse cx="113.5" cy="210.0" rx="8.2" ry="8.2"/>
<ellipse cx="452.6" cy="87.7" rx="19.0" ry="19.1"/>
<ellipse cx="529.0" cy="146.3" rx="21.0" ry="21.1"/>
<ellipse cx="363.4" cy="58.3" rx="11.4" ry="11.4"/>
<ellipse cx="374.4" cy="52.0" rx="0.8" ry="0.8"/>
<ellipse cx="499.5" cy="152.2" rx="17.3" ry="17.4"/>
<ellipse cx="429.7" cy="103.3" rx="45.3" ry="45.7"/>
<ellipse cx="142.1" cy="199.2" rx="2.7" ry="2.7"/>
<ellipse cx="503.5" cy="154.1" rx="14.4" ry="14.4"/>
<ellipse cx="509.9" cy="255.2" rx="7.1" ry="7.1"/>
<ellipse cx="468.5" cy="36.2" rx="8.4" ry="8.4"/>
<ellipse cx="503.0" cy="143.5" rx="11.6" ry="11.6"/>
<ellipse cx="358.6" cy="237.6" rx="1.0" ry="1.0"/>
<ellipse cx="443.0" cy="176.0" rx="8.0" ry="8.0"/>
<ellipse cx="419.2" cy="87.6" rx="1.6" ry="1.6"/>
<ellipse cx="465.3" cy="41.6" rx="15.2" ry="15.2"/>
<ellipse cx="408.5" cy="75.1" rx="7.6" ry="7.6"/>
<ellipse cx="458.9" cy="111.3" rx="8.9" ry="8.9"/>
<ellipse cx="376.1" cy="203.4" rx="2.0" ry="2.0"/>
<ellipse cx="435.3" cy="136.0" rx="3.2" ry="3.2"/>
<ellipse cx="194.7" cy="211.1" rx="1.8" ry="1.8"/>
<ellipse cx="350.7" cy="193.3" rx="2.9" ry="2.9"/>
<ellipse cx="64.1" cy="182.1" rx="29.4" ry="29.6"/>
<ellipse cx="481.2" cy="88.1" rx="12.7" ry="12.7"/>
<ellipse cx="412.4" cy="103.2" rx="0.9" ry="0.9"/>
<ellipse cx="449.4" cy="110.7" rx="6.7" ry="6.7"/>
<ellipse cx="190.8" cy="204.2" rx="0.5" ry="0.5"/>
<ellipse cx="373.0" cy="150.2" rx="17.9" ry="17.9"/>
<ellipse cx="118.3" cy="216.6" rx="1.8" ry="1.8"/>
<ellipse cx="414.4" cy="206.7" rx="1.4" ry="1.4"/>
<ellipse cx="414.4" cy="226.3" rx="6.8" ry="6.8"/>
<ellipse cx="407.2" cy="58.8" rx="33.5" ry="33.7"/>
<ellipse cx="420.7" cy="4.7" rx="10.7" ry="10.7"/>
<ellipse cx="501.1" cy="150.6" rx="10.0" ry="10.0"/>
<ellipse cx="134.2" cy="229.5" rx="11.4" ry="11.4"/>
<ellipse cx="146.9" cy="290.6" rx="23.4" ry="23.4"/>
<ellipse cx="452.6" cy="59.9" rx="42.3" ry="42.7"/>
<ellipse cx="363.4" cy="120.6" rx="18.9" ry="18.9"/>
<ellipse cx="468.5" cy="91.7" rx="26.1" ry="26.2"/>
<ellipse cx="484.4" cy="264.7" rx="2.1" ry="2.1"/>
<ellipse cx="189.1" cy="202.3" rx="0.5" ry="0.5"/>
<ellipse cx="194.2" cy="213.7" rx="0.5" ry="0.5"/>
<ellipse cx="185.3" cy="199.8" rx="0.7" ry="0.7"/>
<ellipse cx="209.5" cy="89.2" rx="0.5" ry="0.5"/>
<ellipse cx="194.0" cy="215.8" rx="0.5" ry="0.5"/>
<ellipse cx="428.4" cy="103.1" rx="1.6" ry="1.6"/>
<ellipse cx="411.2" cy="255.2" rx="0.7" ry="0.7"/>
<ellipse cx="532.2" cy="175.8" rx="15.2" ry="15.2"/>
<ellipse cx="344.3" cy="213.3" rx="3.2" ry="3.2"/>
<ellipse cx="455.7" cy="101.4" rx="18.4" ry="18.4"/>
<ellipse cx="352.3" cy="231.2" rx="1.2" ry="1.2"/>
<ellipse cx="188.1" cy="200.0" rx="0.9" ry="0.9"/>
<ellipse cx="451.0" cy="80.1" rx="14.6" ry="14.6"/>
<ellipse cx="436.6" cy="92.8" rx="11.4" ry="11.4"/>
<ellipse cx="484.4" cy="236.0" rx="1.4" ry="1.4"/>
<ellipse cx="376.1" cy="116.1" rx="41.5" ry="41.9"/>
<ellipse cx="187.0" cy="198.4" rx="0.5" ry="0.5"/>
<ellipse cx="484.4" cy="210.0" rx="3.6" ry="3.6"/>
<ellipse cx="210.6" cy="245.6" rx="1.8" ry="1.8"/>
<ellipse cx="436.6" cy="2.4" rx="32.4" ry="32.5"/>
<ellipse cx="414.4" cy="87.4" rx="22.5" ry="22.5"/>
<ellipse cx="509.9" cy="139.2" rx="3.0" ry="3.0"/>
<ellipse cx="500.3" cy="277.5" rx="0.5" ry="0.5"/>
<ellipse cx="392.6" cy="232.8" rx="1.4" ry="1.4"/>
<ellipse cx="194.7" cy="223.1" rx="2.0" ry="2.0"/>
<ellipse cx="417.5" cy="143.0" rx="10.2" ry="10.2"/>
<ellipse cx="500.3" cy="119.9" rx="43.8" ry="44.2"/>
<ellipse cx="161.0" cy="187.4" rx="0.7" ry="0.7"/>
<ellipse cx="382.5" cy="44.6" rx="61.5" ry="62.7"/>
<ellipse cx="80.0" cy="90.0" rx="135.3" ry="149.8"/>
<ellipse cx="490.8" cy="255.2" rx="4.3" ry="4.3"/>
<ellipse cx="490.8" cy="76.2" rx="35.8" ry="36.0"/>
<ellipse cx="178.7" cy="232.8" rx="7.8" ry="7.8"/>
<ellipse cx="347.5" cy="177.8" rx="0.5" ry="0.5"/>
<ellipse cx="388.9" cy="258.3" rx="0.6" ry="0.6"/>
<ellipse cx="388.9" cy="258.3" rx="0.5" ry="0.5"/>
</g>
</svg>
<div class="zoom"><b><span>+</span></b><b><span>&#8722;</span></b></div>
<div class="attr"><a>Leaflet</a> | &copy; <a>OpenStreetMap</a> contributors</div>
</div></div>
<div class="panel"></div>
<h3 style="top:17.9px">Live Cases by Country</h3>
<div class="tbl"><div><span>USA</span><strong>20,034,309</strong></div><div><span>India</span><strong>10,264,426</strong></div><div><span>Brazil</span><strong>7,577,890</strong></div><div><span>Russia</span><strong>3,131,550</strong></div><div><span>France</span><strong>2,600,498</strong></div><div><span>UK</span><strong>2,432,888</strong></div><div><span>Turkey</span><strong>2,194,272</strong></div><div><span>Italy</span><strong>2,083,689</strong></div><div><span>Spain</span><strong>1,921,115</strong></div><div><span>Germany</span><strong>1,702,253</strong></div><div><span>Colombia</span><strong>1,614,822</strong></div><div><span>Argentina</span><strong>1,602,163</strong></div></div>
<h3 style="top:277.2px">Worldwide new cases</h3>
<svg class="chart" style="left:592px;top:292px" width="176" height="154" viewBox="592 292 176 154">
<line x1="650.4" y1="303" x2="650.4" y2="423.5" stroke="#e8e8ec" stroke-width="0.75"/>
<line x1="687.5" y1="303" x2="687.5" y2="423.5" stroke="#e8e8ec" stroke-width="0.75"/>
<line x1="724.4" y1="303" x2="724.4" y2="423.5" stroke="#e8e8ec" stroke-width="0.75"/>
<text x="609.8" y="305.3" text-anchor="end" class="ax">2m</text>
<text x="609.8" y="321.8" text-anchor="end" class="ax">1m</text>
<text x="609.8" y="338.4" text-anchor="end" class="ax">1m</text>
<text x="609.8" y="354.9" text-anchor="end" class="ax">1m</text>
<text x="609.8" y="371.4" text-anchor="end" class="ax">800k</text>
<text x="609.8" y="387.9" text-anchor="end" class="ax">600k</text>
<text x="609.8" y="404.5" text-anchor="end" class="ax">400k</text>
<text x="609.8" y="421.0" text-anchor="end" class="ax">200k</text>
<text x="650.4" y="431.4" text-anchor="middle" class="ax">Oct 2020</text>
<text x="687.5" y="431.4" text-anchor="middle" class="ax">Nov 2020</text>
<text x="724.4" y="431.4" text-anchor="middle" class="ax">Dec 2020</text>
<path d="M615.5 412.5C615.9 412.0 616.8 409.3 617.5 409.5C618.2 409.7 618.7 412.1 619.3 413.5C619.9 414.9 620.3 417.5 621.0 417.3C621.7 417.1 622.6 414.0 623.5 412.5C624.4 411.0 625.1 408.6 626.0 409.0C626.9 409.4 627.6 414.6 628.5 415.0C629.4 415.4 630.0 412.6 631.0 411.5C632.0 410.4 633.5 408.0 634.5 408.5C635.5 409.0 636.1 413.9 637.0 414.5C637.9 415.1 638.6 413.4 639.5 412.0C640.4 410.6 641.2 406.7 642.0 406.5C642.8 406.3 643.3 409.5 644.0 411.0C644.7 412.5 645.3 415.0 646.0 415.0C646.7 415.0 647.4 412.1 648.0 411.0C648.6 409.9 648.9 408.8 649.5 408.5C650.1 408.2 651.0 409.5 651.5 409.5C652.0 409.5 652.1 407.8 652.5 408.5C652.9 409.2 653.3 413.5 654.0 413.5C654.7 413.5 655.6 409.9 656.5 408.5C657.4 407.1 658.2 405.9 659.0 405.5C659.8 405.1 660.3 404.9 661.0 406.0C661.7 407.1 662.2 411.9 663.0 412.0C663.8 412.1 664.6 408.3 665.5 406.5C666.4 404.7 667.3 401.8 668.0 401.5C668.7 401.2 669.2 403.7 669.7 405.0C670.2 406.3 670.5 409.2 671.0 409.0C671.5 408.8 671.9 405.8 672.5 404.0C673.1 402.2 673.8 400.2 674.5 398.5C675.2 396.8 675.9 394.8 676.5 394.5C677.1 394.2 677.5 395.1 678.0 397.0C678.5 398.9 679.0 405.7 679.5 405.5C680.0 405.3 680.4 398.4 681.0 396.0C681.6 393.6 682.3 393.3 683.0 392.0C683.7 390.7 684.2 387.7 685.0 388.6C685.8 389.5 686.5 396.8 687.3 397.0C688.1 397.2 688.9 390.6 689.6 389.7C690.3 388.8 690.5 393.3 691.2 392.0C691.9 390.7 692.8 383.1 693.5 382.4C694.2 381.7 694.7 385.6 695.3 388.0C695.9 390.4 696.4 395.7 696.9 395.9C697.4 396.1 697.7 391.5 698.2 389.0C698.7 386.5 698.9 383.1 699.7 381.8C700.5 380.5 701.8 380.7 702.5 381.8C703.2 382.9 703.3 385.4 703.7 388.0C704.1 390.6 704.3 396.0 704.7 396.4C705.1 396.8 705.5 392.1 706.0 390.0C706.5 387.9 706.8 386.3 707.6 384.6C708.4 382.9 709.6 379.9 710.4 380.1C711.2 380.3 711.4 383.4 712.0 386.0C712.6 388.6 713.2 394.2 713.7 394.7C714.2 395.2 714.5 391.0 715.0 389.0C715.5 387.0 716.1 384.1 716.6 383.5C717.1 382.9 717.3 386.3 717.7 385.7C718.1 385.1 718.6 380.0 719.1 380.1C719.6 380.2 720.2 383.4 720.7 386.0C721.2 388.6 721.6 394.5 722.2 394.7C722.8 394.9 723.2 389.9 724.0 387.0C724.8 384.1 725.8 378.4 726.7 377.9C727.6 377.4 728.2 381.4 729.0 384.0C729.8 386.6 730.6 392.5 731.2 393.0C731.8 393.5 732.0 389.2 732.4 387.0C732.8 384.8 733.2 387.2 733.6 380.7C734.0 374.2 734.3 362.2 734.5 350.0C734.8 337.8 734.9 311.0 735.1 311.0C735.3 311.0 735.4 337.8 735.6 350.0C735.9 362.2 736.2 374.4 736.6 380.7C737.0 387.0 737.5 384.1 738.0 386.0C738.5 387.9 739.1 391.9 739.6 391.4C740.1 390.9 740.4 386.0 741.0 383.0C741.6 380.0 742.4 375.8 743.0 374.5C743.6 373.2 744.2 374.3 744.7 375.6C745.2 376.9 745.5 379.3 746.0 382.0C746.5 384.7 747.0 390.4 747.5 390.8C748.0 391.2 748.4 386.3 749.0 384.0C749.6 381.7 750.4 377.5 750.9 377.9C751.4 378.2 751.6 383.0 752.0 386.0C752.4 389.0 752.7 393.9 753.1 395.3C753.5 396.7 753.7 393.4 754.2 394.2C754.7 395.0 755.4 400.5 755.9 399.8C756.4 399.1 756.6 393.3 757.0 390.0C757.4 386.7 757.8 382.3 758.0 380.7 L758 418.7 L615.5 418.7 Z" fill="rgba(204,16,52,0.5)"/>
<path d="M615.5 412.5C615.9 412.0 616.8 409.3 617.5 409.5C618.2 409.7 618.7 412.1 619.3 413.5C619.9 414.9 620.3 417.5 621.0 417.3C621.7 417.1 622.6 414.0 623.5 412.5C624.4 411.0 625.1 408.6 626.0 409.0C626.9 409.4 627.6 414.6 628.5 415.0C629.4 415.4 630.0 412.6 631.0 411.5C632.0 410.4 633.5 408.0 634.5 408.5C635.5 409.0 636.1 413.9 637.0 414.5C637.9 415.1 638.6 413.4 639.5 412.0C640.4 410.6 641.2 406.7 642.0 406.5C642.8 406.3 643.3 409.5 644.0 411.0C644.7 412.5 645.3 415.0 646.0 415.0C646.7 415.0 647.4 412.1 648.0 411.0C648.6 409.9 648.9 408.8 649.5 408.5C650.1 408.2 651.0 409.5 651.5 409.5C652.0 409.5 652.1 407.8 652.5 408.5C652.9 409.2 653.3 413.5 654.0 413.5C654.7 413.5 655.6 409.9 656.5 408.5C657.4 407.1 658.2 405.9 659.0 405.5C659.8 405.1 660.3 404.9 661.0 406.0C661.7 407.1 662.2 411.9 663.0 412.0C663.8 412.1 664.6 408.3 665.5 406.5C666.4 404.7 667.3 401.8 668.0 401.5C668.7 401.2 669.2 403.7 669.7 405.0C670.2 406.3 670.5 409.2 671.0 409.0C671.5 408.8 671.9 405.8 672.5 404.0C673.1 402.2 673.8 400.2 674.5 398.5C675.2 396.8 675.9 394.8 676.5 394.5C677.1 394.2 677.5 395.1 678.0 397.0C678.5 398.9 679.0 405.7 679.5 405.5C680.0 405.3 680.4 398.4 681.0 396.0C681.6 393.6 682.3 393.3 683.0 392.0C683.7 390.7 684.2 387.7 685.0 388.6C685.8 389.5 686.5 396.8 687.3 397.0C688.1 397.2 688.9 390.6 689.6 389.7C690.3 388.8 690.5 393.3 691.2 392.0C691.9 390.7 692.8 383.1 693.5 382.4C694.2 381.7 694.7 385.6 695.3 388.0C695.9 390.4 696.4 395.7 696.9 395.9C697.4 396.1 697.7 391.5 698.2 389.0C698.7 386.5 698.9 383.1 699.7 381.8C700.5 380.5 701.8 380.7 702.5 381.8C703.2 382.9 703.3 385.4 703.7 388.0C704.1 390.6 704.3 396.0 704.7 396.4C705.1 396.8 705.5 392.1 706.0 390.0C706.5 387.9 706.8 386.3 707.6 384.6C708.4 382.9 709.6 379.9 710.4 380.1C711.2 380.3 711.4 383.4 712.0 386.0C712.6 388.6 713.2 394.2 713.7 394.7C714.2 395.2 714.5 391.0 715.0 389.0C715.5 387.0 716.1 384.1 716.6 383.5C717.1 382.9 717.3 386.3 717.7 385.7C718.1 385.1 718.6 380.0 719.1 380.1C719.6 380.2 720.2 383.4 720.7 386.0C721.2 388.6 721.6 394.5 722.2 394.7C722.8 394.9 723.2 389.9 724.0 387.0C724.8 384.1 725.8 378.4 726.7 377.9C727.6 377.4 728.2 381.4 729.0 384.0C729.8 386.6 730.6 392.5 731.2 393.0C731.8 393.5 732.0 389.2 732.4 387.0C732.8 384.8 733.2 387.2 733.6 380.7C734.0 374.2 734.3 362.2 734.5 350.0C734.8 337.8 734.9 311.0 735.1 311.0C735.3 311.0 735.4 337.8 735.6 350.0C735.9 362.2 736.2 374.4 736.6 380.7C737.0 387.0 737.5 384.1 738.0 386.0C738.5 387.9 739.1 391.9 739.6 391.4C740.1 390.9 740.4 386.0 741.0 383.0C741.6 380.0 742.4 375.8 743.0 374.5C743.6 373.2 744.2 374.3 744.7 375.6C745.2 376.9 745.5 379.3 746.0 382.0C746.5 384.7 747.0 390.4 747.5 390.8C748.0 391.2 748.4 386.3 749.0 384.0C749.6 381.7 750.4 377.5 750.9 377.9C751.4 378.2 751.6 383.0 752.0 386.0C752.4 389.0 752.7 393.9 753.1 395.3C753.5 396.7 753.7 393.4 754.2 394.2C754.7 395.0 755.4 400.5 755.9 399.8C756.4 399.1 756.6 393.3 757.0 390.0C757.4 386.7 757.8 382.3 758.0 380.7" fill="none" stroke="#cc1034" stroke-width="1.7" stroke-linejoin="round" stroke-linecap="round"/>
</svg>
</body></html>
